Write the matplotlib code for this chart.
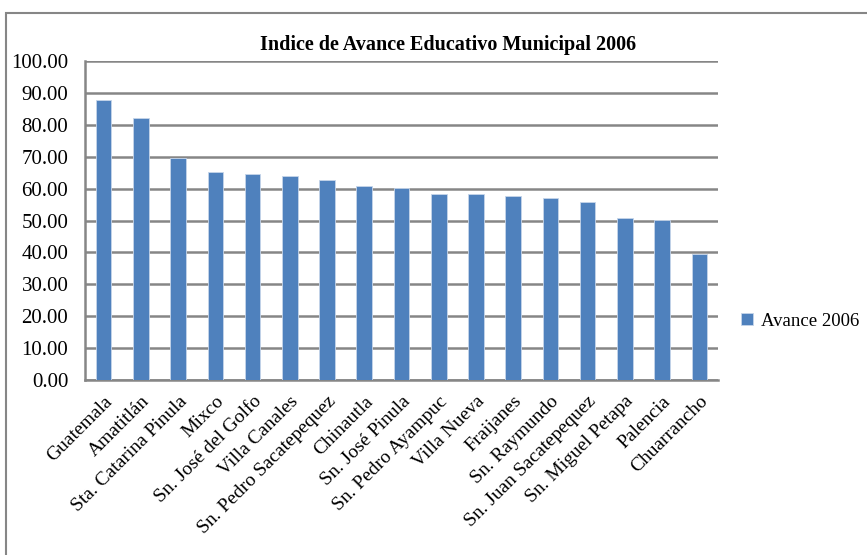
import matplotlib
matplotlib.use("Agg")
import matplotlib.pyplot as plt
from matplotlib.patches import Rectangle
from matplotlib.ticker import FormatStrFormatter

categories = ["Guatemala", "Amatitlán", "Sta. Catarina Pinula", "Mixco",
              "Sn. José del Golfo", "Villa Canales", "Sn. Pedro Sacatepequez",
              "Chinautla", "Sn. José Pinula", "Sn. Pedro Ayampuc", "Villa Nueva",
              "Fraijanes", "Sn. Raymundo", "Sn. Juan Sacatepequez",
              "Sn. Miguel Petapa", "Palencia", "Chuarrancho"]
values = [87.7, 82.2, 69.7, 65.3, 64.6, 63.9, 62.8, 60.8, 60.3, 58.3, 58.3,
          57.8, 57.0, 55.8, 50.8, 50.3, 39.6]
series_name = "Avance 2006"
title = "Indice de Avance Educativo Municipal 2006"
yticks = [0, 10, 20, 30, 40, 50, 60, 70, 80, 90, 100]

plt.rcParams['font.family'] = ['Liberation Serif', 'DejaVu Serif']

W, H = 867, 555
fig = plt.figure(figsize=(W / 100, H / 100), dpi=100)

# outer chart border (extends beyond image on right/bottom)
fig.patches.append(Rectangle((6 / W, -0.1), 1.2, (H - 13) / H + 0.1,
                             transform=fig.transFigure, fill=False,
                             edgecolor='#868686', linewidth=1.5))

left, right, top, bottom = 85, 718, 60.7, 380.3
ax = fig.add_axes([left / W, (H - bottom) / H, (right - left) / W, (bottom - top) / H])

x = list(range(len(categories)))
bars = ax.bar(x, values, width=0.42, color='#4F81BD', edgecolor='#C6D5EA',
              linewidth=0.6, label=series_name, zorder=3)

ax.set_xlim(-0.5, len(categories) - 0.5)
ax.set_ylim(0, 100)
ax.set_yticks(yticks)
ax.yaxis.set_major_formatter(FormatStrFormatter('%.2f'))
ax.grid(axis='y', color='#868686', linewidth=1.8, zorder=0)
ax.tick_params(axis='y', length=0, pad=12, labelsize=15)
ax.tick_params(axis='x', length=0, pad=9)
for s in ['top', 'right']:
    ax.spines[s].set_visible(False)
ax.spines['left'].set_color('#868686')
ax.spines['left'].set_linewidth(1.8)
ax.spines['bottom'].set_color('#868686')
ax.spines['bottom'].set_linewidth(1.8)

ax.set_xticks(x)
ax.set_xticklabels(categories, rotation=45, ha='right', va='top',
                   rotation_mode='anchor', fontsize=14)

fig.text(448 / W, 1 - 45 / H, title, ha='center', va='center',
         fontsize=14.5, fontweight='bold')

leg = fig.legend(handles=[bars], labels=[series_name], loc='center left',
                 bbox_to_anchor=(732 / W, 1 - 321 / H), frameon=False,
                 fontsize=13.5, handlelength=0.6, handleheight=0.6,
                 handletextpad=0.45, borderpad=0)

fig.savefig("out.png", dpi=100)
